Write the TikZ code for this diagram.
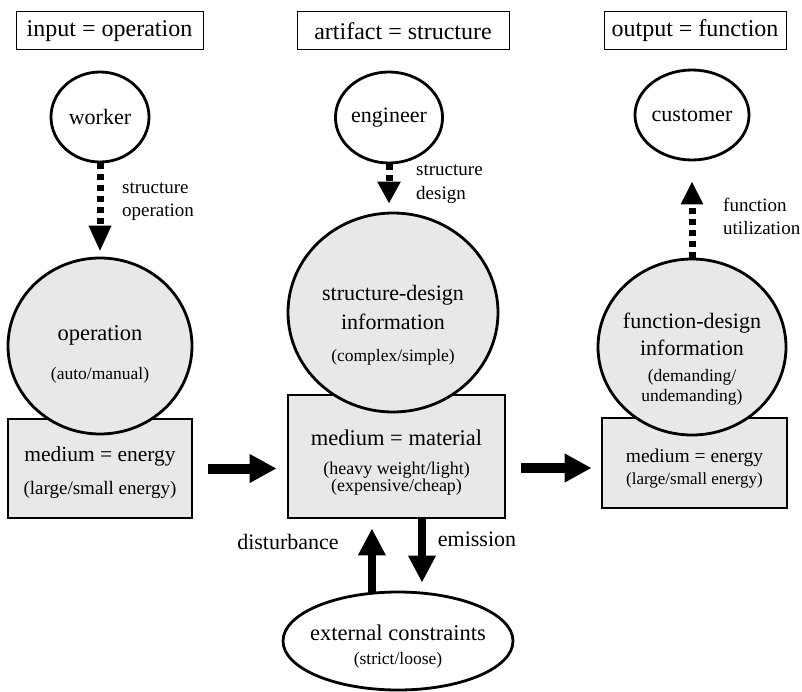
\documentclass[tikz,border=0pt]{standalone}
\usepackage{fontspec}
\setmainfont{Liberation Serif}
\usetikzlibrary{arrows.meta,shapes.geometric}
\definecolor{shade}{HTML}{E8E8E8}
\newcommand{\fs}[1]{\fontsize{#1}{#1}\selectfont}
\begin{document}
\begin{tikzpicture}[x=1pt,y=-1pt,
  titlebox/.style={draw, line width=1pt, minimum height=38pt, inner sep=0pt, font=\fs{24}},
  person/.style={ellipse, draw, line width=2.8pt, fill=white, inner sep=0pt},
  info/.style={ellipse, draw, line width=2.8pt, fill=shade, inner sep=0pt},
  medium/.style={rectangle, draw, line width=2.8pt, fill=shade, inner sep=0pt},
  txt/.style={inner sep=0pt},
  lab/.style={inner sep=0pt, anchor=west, font=\fs{19}},
  thickarrow/.style={line width=10pt, -{Triangle[length=27pt,width=27pt]}},
  vertarrow/.style={line width=8pt, -{Triangle[length=27pt,width=26pt]}},
  dasharrow/.style={line width=7pt, dash pattern=on 6pt off 5pt, -{Triangle[length=26pt,width=21pt]}}
]
\useasboundingbox (0,0) rectangle (802,692);

% titles
\node[titlebox, minimum width=187pt] (t1) at (109.5,31) {input = operation};
\node[titlebox, minimum width=212pt] (t2) at (403,31) {artifact = structure};
\node[titlebox, minimum width=182pt] (t3) at (695,31) {output = function};

% persons
\node[person, minimum width=98pt, minimum height=90pt, font=\fs{22}] (worker) at (100,117) {worker};
\node[person, minimum width=100pt, minimum height=91pt, font=\fs{22}] (eng) at (389,117.5) {engineer};
\node[person, minimum width=100pt, minimum height=90pt, font=\fs{22}] (cust) at (692,115) {customer};

% media rectangles
\node[medium, minimum width=184pt, minimum height=99pt] (m1) at (100,468.5) {};
\node[medium, minimum width=217pt, minimum height=123pt] (m2) at (396.5,456.5) {};
\node[medium, minimum width=185pt, minimum height=90pt] (m3) at (694.5,463) {};

% information circles
\node[info, minimum width=184pt, minimum height=176pt] (op) at (100,346) {};
\node[info, minimum width=210pt, minimum height=199pt] (sd) at (393,312.5) {};
\node[info, minimum width=188pt, minimum height=176pt] (fd) at (692,347) {};

% external constraints
\node[ellipse, draw, line width=2.8pt, fill=white, minimum width=230pt, minimum height=98pt, inner sep=0pt] (ext) at (398,641) {};

% texts inside shapes
\node[txt, font=\fs{22.5}] (opA) at (100,335) {operation};
\node[txt, font=\fs{17.5}] (opB) at (100,375) {(auto/manual)};
\node[txt, font=\fs{21.5}] (m1A) at (100,456) {medium = energy};
\node[txt, font=\fs{19}] (m1B) at (100,490) {(large/small energy)};

\node[txt, font=\fs{22}] (sdA) at (393,295) {structure-design};
\node[txt, font=\fs{22}] (sdB) at (393,322) {information};
\node[txt, font=\fs{17.5}] (sdC) at (393,357) {(complex/simple)};
\node[txt, font=\fs{22.5}] (m2A) at (396.5,438) {medium = material};
\node[txt, font=\fs{18}] (m2B) at (396.5,470) {(heavy weight/light)};
\node[txt, font=\fs{18}] (m2C) at (396.5,487) {(expensive/cheap)};

\node[txt, font=\fs{22}] (fdA) at (692,323) {function-design};
\node[txt, font=\fs{22}] (fdB) at (692,348) {information};
\node[txt, font=\fs{17.5}] (fdC) at (692,377) {(demanding/};
\node[txt, font=\fs{17.5}] (fdD) at (692,397) {undemanding)};
\node[txt, font=\fs{19.5}] (m3A) at (694.5,458) {medium = energy};
\node[txt, font=\fs{17}] (m3B) at (694.5,480) {(large/small energy)};

\node[txt, font=\fs{22.5}] (extA) at (398,633) {external constraints};
\node[txt, font=\fs{17.5}] (extB) at (398,660) {(strict/loose)};

% arrows
\draw[dasharrow, shorten >=5pt] (worker.south) -- (op.north);
\draw[dasharrow, -{Triangle[length=22pt,width=22pt]}, shorten >=8pt] (eng.south) -- (eng.south |- sd.north);
\draw[dasharrow, -{Triangle[length=23pt,width=21pt]}, shorten >=20pt] (fd.north) -- (fd.north |- cust.south);

\draw[thickarrow, shorten <=15pt, shorten >=10pt] (m1.east) -- (m1.east -| m2.west);
\draw[thickarrow, shorten <=15pt, shorten >=9pt] ([yshift=-11.5pt]m2.east) -- ([yshift=-11.5pt]m2.east -| m3.west);

\draw[vertarrow, shorten >=9pt] (ext.118.6) -- (ext.118.6 |- m2.south);
\draw[vertarrow, shorten >=8pt] ([xshift=25.5pt]m2.south) -- ([xshift=25.5pt]m2.south |- ext.north);

% labels
\node[lab] (l1a) at (122,188) {structure};
\node[lab] (l1b) at (122,212) {operation};
\node[lab] (l2a) at (416,170) {structure};
\node[lab] (l2b) at (416,195) {design};
\node[lab] (l3a) at (723,205) {function};
\node[lab] (l3b) at (723,228) {utilization};
\node[txt, font=\fs{22}] (dist) at (288,542) {disturbance};
\node[txt, font=\fs{22}] (emis) at (477,539) {emission};
\end{tikzpicture}
\end{document}
